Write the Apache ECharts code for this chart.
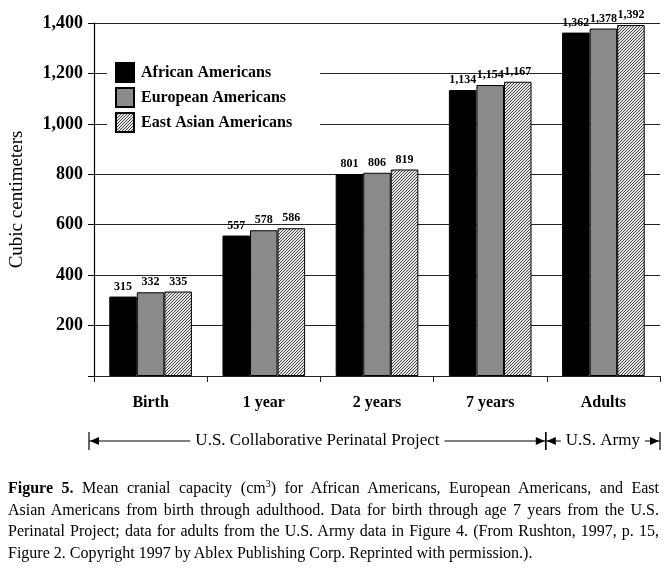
<!DOCTYPE html>
<html>
<head>
<meta charset="utf-8">
<script src="https://cdn.jsdelivr.net/npm/echarts@6/dist/echarts.min.js"></script>
<style>
  html, body { margin: 0; padding: 0; background: #fff; }
  #wrap { position: relative; width: 667px; height: 568px; }
  #chart { position: absolute; left: 0; top: 0; width: 667px; height: 568px; }
  #caption {
    position: absolute; left: 8px; right: 8px; top: 477px;
    font-family: 'Liberation Serif', 'Times New Roman', serif;
    font-size: 16px; line-height: 21.5px; color: #000;
  }
  #caption div { text-align: justify; text-align-last: justify; white-space: nowrap; }
  #caption div.last { text-align-last: left; }
  #caption sup { font-size: 10px; line-height: 0; }
</style>
</head>
<body>
<div id="wrap">
  <div id="chart"></div>
  <div id="caption">
    <div><b>Figure 5.</b> Mean cranial capacity (cm<sup>3</sup>) for African Americans, European Americans, and East</div>
    <div>Asian Americans from birth through adulthood. Data for birth through age 7 years from the U.S.</div>
    <div>Perinatal Project; data for adults from the U.S. Army data in Figure 4. (From Rushton, 1997, p. 15,</div>
    <div class="last">Figure 2. Copyright 1997 by Ablex Publishing Corp. Reprinted with permission.).</div>
  </div>
</div>
<script>
// 数据
var categories = ['Birth', '1 year', '2 years', '7 years', 'Adults'];
var african = [315, 557, 801, 1134, 1362];
var european = [332, 578, 806, 1154, 1378];
var eastAsian = [335, 586, 819, 1167, 1392];
var seriesNames = ['African Americans', 'European Americans', 'East Asian Americans'];
// 数据来源区段 (按类别序号)
var sources = [
    {name: 'U.S. Collaborative Perinatal Project', from: 0, to: 4},
    {name: 'U.S. Army', from: 4, to: 5}
];

var serif = "'Liberation Serif', 'Times New Roman', serif";

// 斜线填充
var hatch = function () {
    var c = document.createElement('canvas');
    c.width = 3; c.height = 3;
    var ctx = c.getContext('2d');
    ctx.fillStyle = '#e6e6e6';
    ctx.fillRect(0, 0, 3, 3);
    ctx.strokeStyle = '#333';
    ctx.lineWidth = 0.9;
    ctx.beginPath();
    ctx.moveTo(0, 3); ctx.lineTo(3, 0);
    ctx.moveTo(-1, 1); ctx.lineTo(1, -1);
    ctx.moveTo(2, 4); ctx.lineTo(4, 2);
    ctx.stroke();
    return c;
};

var fmt = function (v) {
    return Number(v).toLocaleString('en-US');
};

var gridLeft = 89, gridRight = 7, gridTop = 23, gridBottom = 192;

var barLabel = {
    show: true,
    position: 'top',
    distance: 4,
    fontFamily: serif,
    fontWeight: 'bold',
    fontSize: 12,
    color: '#000',
    formatter: function (p) { return fmt(p.value); }
};

var makeSeries = function (name, data, color) {
    return {
        name: name,
        type: 'bar',
        barGap: '0%',
        barCategoryGap: '27%',
        data: data,
        itemStyle: {color: color, borderColor: '#000', borderWidth: 1},
        label: barLabel
    };
};

// 底部区段箭头
var buildGraphic = function () {
    var width = 667 - gridLeft - gridRight;
    var catW = width / categories.length;
    var y = 441;
    var els = [];
    sources.forEach(function (s) {
        var x1 = gridLeft + s.from * catW;
        var x2 = gridLeft + s.to * catW;
        els.push({type: 'line', shape: {x1: x1, y1: y, x2: x2, y2: y}, style: {stroke: '#000', lineWidth: 1.2}});
        els.push({type: 'line', shape: {x1: x1, y1: y - 9, x2: x1, y2: y + 9}, style: {stroke: '#000', lineWidth: 1.2}});
        els.push({type: 'line', shape: {x1: x2, y1: y - 9, x2: x2, y2: y + 9}, style: {stroke: '#000', lineWidth: 1.2}});
        els.push({type: 'polygon', shape: {points: [[x1 + 1, y], [x1 + 10, y - 4], [x1 + 10, y + 4]]}, style: {fill: '#000'}});
        els.push({type: 'polygon', shape: {points: [[x2 - 1, y], [x2 - 10, y - 4], [x2 - 10, y + 4]]}, style: {fill: '#000'}});
        els.push({
            type: 'text',
            x: (x1 + x2) / 2,
            y: y,
            style: {
                text: s.name,
                fontFamily: serif,
                fontSize: 17,
                fill: '#000',
                align: 'center',
                verticalAlign: 'middle',
                backgroundColor: '#fff',
                padding: [0, 5]
            }
        });
    });
    return els;
};

var drawChart = function () {
    var myChart = echarts.init(document.getElementById('chart'), null, {renderer: 'canvas'});

    var options = {
        backgroundColor: '#fff',
        animation: false,
        textStyle: {fontFamily: serif},
        grid: {left: gridLeft, right: gridRight, top: gridTop, bottom: gridBottom},
        legend: {
            orient: 'vertical',
            left: 107,
            top: 54,
            padding: [8, 28, 8, 8],
            backgroundColor: '#fff',
            itemWidth: 18,
            itemHeight: 19,
            itemGap: 4,
            icon: 'rect',
            textStyle: {fontFamily: serif, fontWeight: 'bold', fontSize: 16, color: '#000', padding: [0, 0, 0, 2]},
            data: seriesNames
        },
        xAxis: {
            type: 'category',
            data: categories,
            axisLine: {lineStyle: {color: '#222', width: 1.2}},
            axisTick: {show: true, length: 6, lineStyle: {color: '#222'}},
            axisLabel: {fontFamily: serif, fontWeight: 'bold', fontSize: 16, color: '#000', margin: 19}
        },
        yAxis: {
            type: 'value',
            min: 0,
            max: 1400,
            interval: 200,
            name: 'Cubic centimeters',
            nameLocation: 'middle',
            nameRotate: 90,
            nameGap: 67,
            nameTextStyle: {fontFamily: serif, fontSize: 19, color: '#000'},
            axisLine: {show: true, lineStyle: {color: '#000', width: 1.2}},
            axisTick: {show: true, length: 6, lineStyle: {color: '#000'}},
            axisLabel: {
                fontFamily: serif, fontWeight: 'bold', fontSize: 18, color: '#000', margin: 11,
                formatter: function (v) { return v === 0 ? '' : fmt(v); }
            },
            splitLine: {show: true, lineStyle: {color: '#222', width: 1.2}}
        },
        series: [
            makeSeries(seriesNames[0], african, '#000'),
            makeSeries(seriesNames[1], european, '#8a8a8a'),
            makeSeries(seriesNames[2], eastAsian, {image: hatch(), repeat: 'repeat'})
        ],
        graphic: buildGraphic()
    };

    myChart.setOption(options);
};

drawChart();
</script>
</body>
</html>
